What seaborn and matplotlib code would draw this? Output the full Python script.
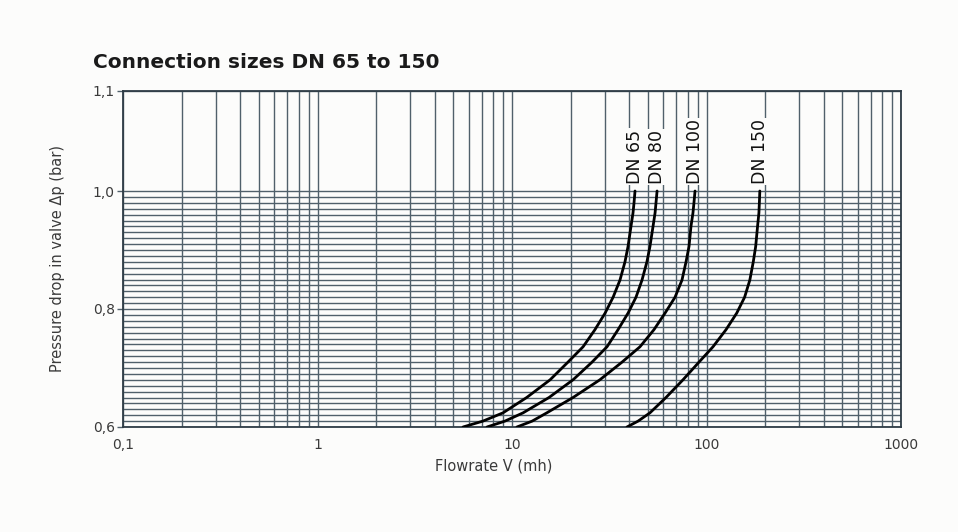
import numpy as np
import pandas as pd
import seaborn as sns
import matplotlib
matplotlib.use('Agg')
import matplotlib.pyplot as plt
from matplotlib.ticker import FixedLocator, LogLocator, NullFormatter

# values
pressure = [1.0, 0.98, 0.963, 0.94, 0.906, 0.88, 0.849, 0.82, 0.793,
            0.765, 0.736, 0.71, 0.68, 0.65, 0.624, 0.61, 0.6]
flow_dn65 = [42.9, 42.4, 41.9, 40.9, 39.5, 38.1, 35.9, 33.1, 30.1,
             26.7, 23.2, 19.4, 15.7, 11.9, 8.99, 7.09, 5.60]
flow_dn80 = [55.7, 55.0, 54.4, 53.1, 51.2, 49.4, 46.6, 43.4, 39.5,
             35.1, 30.8, 25.8, 20.6, 15.5, 11.4, 9.20, 7.44]
flow_dn100 = [87.3, 86.2, 85.2, 83.2, 81.3, 78.5, 74.8, 68.9, 61.2,
              53.7, 45.5, 36.8, 28.3, 20.6, 15.1, 12.7, 10.6]
flow_dn150 = [188, 187, 186, 183, 179, 174, 167, 157, 143,
              126, 108, 91.5, 75.7, 61.9, 51.2, 44.5, 39.0]
sizes = ['DN 65', 'DN 80', 'DN 100', 'DN 150']

x_ticks = [0.1, 1, 10, 100, 1000]
x_tick_labels = ['0,1', '1', '10', '100', '1000']
y_ticks = [0.6, 0.8, 1.0, 1.1]
y_tick_labels = ['0,6', '0,8', '1,0', '1,1']

frames = []
for name, flow in zip(sizes, [flow_dn65, flow_dn80, flow_dn100, flow_dn150]):
    frames.append(pd.DataFrame({'flow': flow, 'dp': pressure, 'size': name}))
df = pd.concat(frames, ignore_index=True)

sns.set_style('white')
plt.rcParams['font.family'] = ['DejaVu Sans']

bg = '#fcfcfb'
grid_c = '#50606b'
text_c = '#3a3a3a'


# the y axis is stretched differently above 1,0 bar
def fwd(y):
    y = np.asarray(y, dtype=float)
    return np.where(y <= 1.0, (y - 0.6) * 590.0, 236.0 + (y - 1.0) * 1000.0)


def inv(u):
    u = np.asarray(u, dtype=float)
    return np.where(u <= 236.0, u / 590.0 + 0.6, (u - 236.0) / 1000.0 + 1.0)


fig = plt.figure(figsize=(9.58, 5.32), dpi=100, facecolor=bg)
ax = fig.add_axes([123 / 958, 105 / 532, 778 / 958, 336 / 532])
ax.set_facecolor(bg)

sns.lineplot(data=df, x='flow', y='dp', hue='size', units='size', estimator=None,
             palette=['black'] * 4, linewidth=2.0, legend=False, ax=ax, zorder=5)

ax.set_xscale('log')
ax.set_yscale('function', functions=(fwd, inv))
ax.set_xlim(0.1, 1000)
ax.set_ylim(0.6, 1.1)

ax.set_xticks(x_ticks)
ax.set_xticklabels(x_tick_labels)
ax.xaxis.set_minor_locator(LogLocator(base=10, subs=np.arange(2, 10)))
ax.xaxis.set_minor_formatter(NullFormatter())
ax.set_yticks(y_ticks)
ax.set_yticklabels(y_tick_labels)
ax.yaxis.set_minor_locator(FixedLocator(np.round(np.arange(0.61, 1.0, 0.01), 2)))

ax.grid(which='both', axis='both', color=grid_c, linewidth=1.0)
ax.tick_params(axis='x', which='both', length=0, pad=8, labelsize=10, labelcolor=text_c)
ax.tick_params(axis='y', which='major', length=4, width=1, color=grid_c, pad=2,
               labelsize=10, labelcolor=text_c, left=True)
ax.tick_params(axis='y', which='minor', length=0)
for sp in ax.spines.values():
    sp.set_color('#2e3c46')
    sp.set_linewidth(1.3)

for name, flow in zip(sizes, [flow_dn65, flow_dn80, flow_dn100, flow_dn150]):
    ax.text(flow[0], 1.007, name, rotation=90, ha='center', va='bottom',
            fontsize=12.5, color='#111111', zorder=6,
            bbox=dict(facecolor=bg, edgecolor='none', pad=1.0))

ax.set_xlabel('Flowrate V (mh)', fontsize=10.5, color=text_c)
ax.xaxis.set_label_coords(0.477, -0.095)
ax.set_ylabel('Pressure drop in valve Δp (bar)', fontsize=10.5, color=text_c)
ax.yaxis.set_label_coords(-0.074, 0.5)

fig.text(93 / 958, (532 - 68) / 532, 'Connection sizes DN 65 to 150', fontsize=14.5,
         fontweight='bold', color='#1a1a1a', ha='left', va='baseline')

fig.savefig('out.png', dpi=100, facecolor=bg)
